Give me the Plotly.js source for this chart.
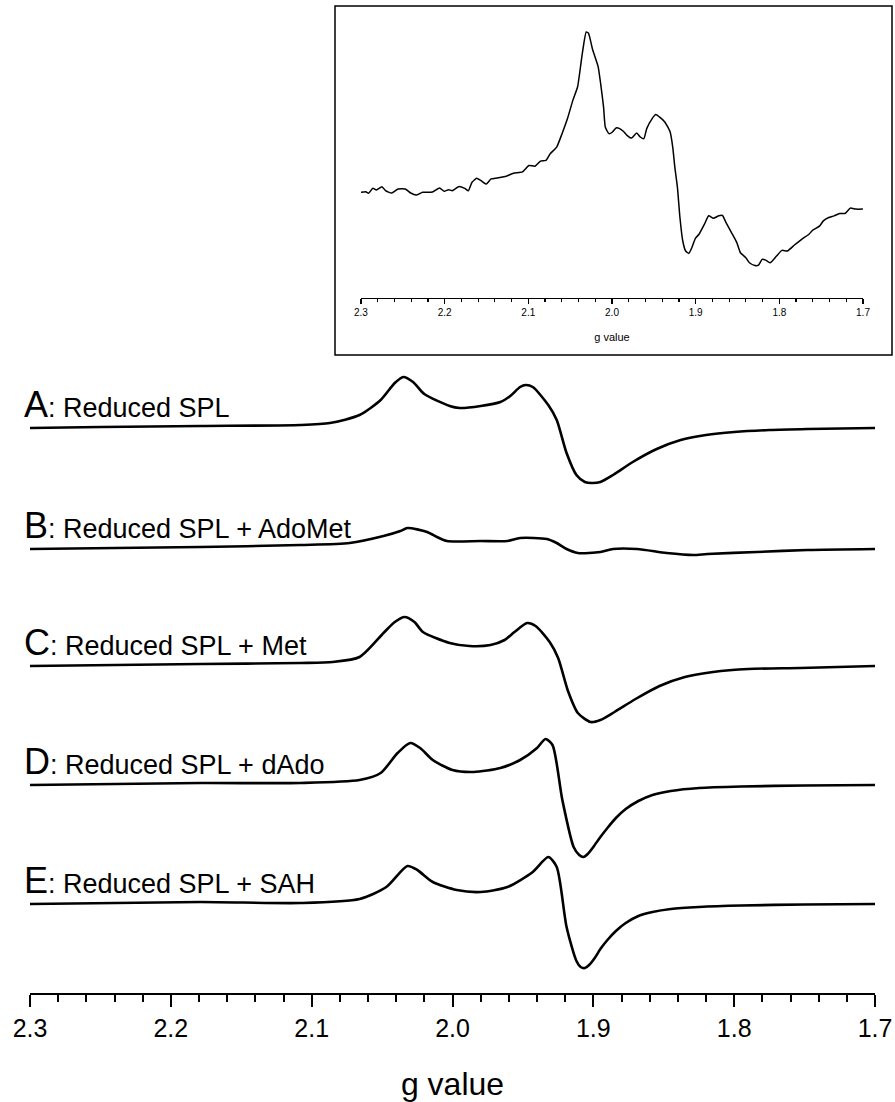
<!DOCTYPE html>
<html>
<head>
<meta charset="utf-8">
<script src="https://cdn.plot.ly/plotly-3.0.1.min.js"></script>
<style>html,body{margin:0;padding:0;background:#fff;}#chart{width:895px;height:1102px;}</style>
</head>
<body>
<div id="chart"></div>
<script>
// ---- Main spectra (g value, intensity in arbitrary units, positive up) ----
const gA = [2.300,2.250,2.179,2.108,2.087,2.066,2.051,2.041,2.035,2.028,2.020,2.002,1.995,1.980,1.966,1.959,1.952,1.948,1.943,1.932,1.926,1.919,1.912,1.906,1.901,1.895,1.886,1.872,1.855,1.838,1.820,1.800,1.775,1.748,1.700];
const iA = [0,1,2,3,5,13,28,45,51,46,34,22,20,22,26,32,41,43,41,23,8,-25,-47,-54,-55,-54,-47,-34,-21,-12,-7,-4,-2,-1,0];

const gB = [2.300,2.179,2.108,2.073,2.049,2.037,2.032,2.018,2.011,2.004,1.980,1.961,1.952,1.933,1.926,1.919,1.911,1.895,1.886,1.869,1.848,1.829,1.819,1.784,1.748,1.700];
const iB = [0,2,4,6,13,18,21,17,12,8,8,8,11,10,6,0,-4,-3,0,0,-4,-6,-5,-3,-1,0];

const gC = [2.300,2.179,2.108,2.085,2.066,2.049,2.041,2.034,2.027,2.021,2.002,1.988,1.973,1.963,1.956,1.947,1.941,1.931,1.925,1.918,1.911,1.902,1.895,1.885,1.870,1.853,1.835,1.815,1.790,1.753,1.700];
const iC = [0,2,3,4,9,33,44,49,44,34,23,20,21,26,34,43,40,24,8,-25,-47,-56,-54,-46,-33,-20,-11,-6,-3,-2,0];

const gD = [2.300,2.179,2.108,2.066,2.051,2.039,2.030,2.023,2.014,2.000,1.985,1.966,1.952,1.940,1.934,1.929,1.922,1.914,1.910,1.907,1.904,1.900,1.895,1.890,1.884,1.877,1.868,1.858,1.845,1.825,1.795,1.750,1.700];
const iD = [0,2,2,5,12,32,42,37,25,15,13,17,25,37,46,40,-15,-62,-70,-72,-69,-62,-52,-43,-33,-24,-16,-10,-6,-3,-1.5,-0.5,0];

const gE = [2.300,2.179,2.108,2.066,2.047,2.032,2.025,2.014,1.997,1.980,1.961,1.943,1.932,1.926,1.919,1.912,1.909,1.906,1.903,1.899,1.895,1.890,1.884,1.877,1.868,1.858,1.845,1.825,1.795,1.750,1.700];
const iE = [0,2,1,5,17,38,34,22,14,12,17,32,47,37,-23,-57,-63,-64,-61,-54,-45,-36,-27,-19,-12,-8,-5,-3,-1.5,-0.5,0];

// vertical stacking offsets of each spectrum
const offsets = [565, 444, 327, 208, 89];
const labelLetters = ["A", "B", "C", "D", "E"];
const labelTexts = [": Reduced SPL", ": Reduced SPL + AdoMet", ": Reduced SPL + Met", ": Reduced SPL + dAdo", ": Reduced SPL + SAH"];

// ---- Inset spectrum ----
const gIn = [2.3000,2.2944,2.2910,2.2858,2.2815,2.2750,2.2707,2.2634,2.2556,2.2470,2.2406,2.2341,2.2263,2.2147,2.2061,2.2005,2.1953,2.1910,2.1833,2.1760,2.1717,2.1673,2.1617,2.1566,2.1501,2.1445,2.1372,2.1264,2.1178,2.1070,2.0993,2.0920,2.0855,2.0790,2.0739,2.0661,2.0597,2.0532,2.0467,2.0411,2.0360,2.0308,2.0282,2.0231,2.0166,2.0136,2.0101,2.0080,2.0037,1.9994,1.9951,1.9908,1.9865,1.9821,1.9766,1.9705,1.9662,1.9619,1.9585,1.9520,1.9477,1.9434,1.9369,1.9305,1.9274,1.9249,1.9218,1.9188,1.9154,1.9120,1.9081,1.9046,1.9003,1.8960,1.8895,1.8844,1.8788,1.8723,1.8680,1.8637,1.8572,1.8508,1.8465,1.8400,1.8357,1.8292,1.8249,1.8206,1.8163,1.8111,1.8034,1.7969,1.7905,1.7819,1.7733,1.7646,1.7603,1.7517,1.7474,1.7410,1.7345,1.7280,1.7216,1.7151,1.7087,1.7001];
const iIn = [0,2,-3,12,7,17,5,-2,10,10,-2,-8,0,1,13,3,8,5,17,12,5,30,42,35,25,40,43,48,57,61,80,78,93,95,115,135,175,220,275,315,405,478,475,425,375,325,255,195,175,180,192,190,182,170,162,177,165,160,190,220,232,225,210,180,135,75,15,-75,-145,-175,-182,-165,-137,-125,-95,-70,-77,-70,-69,-90,-120,-150,-180,-195,-210,-218,-217,-200,-202,-210,-190,-173,-175,-157,-140,-125,-113,-100,-85,-75,-70,-63,-63,-47,-50,-50];

const majorTicks = [2.3, 2.2, 2.1, 2.0, 1.9, 1.8, 1.7];
const tickLabels = ["2.3", "2.2", "2.1", "2.0", "1.9", "1.8", "1.7"];

const FONT = "Liberation Sans, Arial, sans-serif";
const mainG = [gA, gB, gC, gD, gE];
const mainI = [iA, iB, iC, iD, iE];

const traces = mainG.map((g, k) => ({
  x: g,
  y: mainI[k].map(v => v + offsets[k]),
  type: "scatter", mode: "lines",
  line: {color: "#000", width: 2.6, shape: "spline", smoothing: 0.7},
  xaxis: "x", yaxis: "y", hoverinfo: "skip"
}));

traces.push({
  x: gIn, y: iIn, type: "scatter", mode: "lines",
  line: {color: "#000", width: 1.5, shape: "spline", smoothing: 0.5},
  xaxis: "x2", yaxis: "y2", hoverinfo: "skip"
});

const annotations = labelLetters.map((L, k) => ({
  xref: "paper", yref: "y", x: -0.0095, y: offsets[k] + 1,
  xanchor: "left", yanchor: "bottom", showarrow: false,
  text: "<span style='font-size:36px'>" + L + "</span>" + labelTexts[k],
  font: {family: FONT, size: 27, color: "#000"}
}));

const layout = {
  width: 895, height: 1102,
  margin: {l: 30, r: 20, t: 0, b: 109},
  paper_bgcolor: "#fff", plot_bgcolor: "rgba(0,0,0,0)",
  showlegend: false,
  font: {family: FONT, color: "#000"},
  xaxis: {
    range: [2.3, 1.7], autorange: false, showgrid: false, zeroline: false,
    showline: true, linecolor: "#000", linewidth: 2,
    tickmode: "array", tickvals: majorTicks, ticktext: tickLabels,
    ticks: "outside", ticklen: 12, tickwidth: 2, tickcolor: "#000",
    tickfont: {family: FONT, size: 25, color: "#000"},
    minor: {dtick: 0.02, tick0: 1.7, ticks: "outside", ticklen: 7, tickwidth: 2, tickcolor: "#000", showgrid: false},
    title: {text: "g value", font: {family: FONT, size: 32, color: "#000"}, standoff: 36},
    anchor: "y"
  },
  yaxis: {range: [0, 993], autorange: false, visible: false, domain: [0, 1]},
  xaxis2: {
    domain: [0.3917, 0.9858], anchor: "y2",
    range: [2.3, 1.7], autorange: false, showgrid: false, zeroline: false,
    showline: true, linecolor: "#000", linewidth: 1.2,
    tickmode: "array", tickvals: majorTicks, ticktext: tickLabels,
    ticks: "outside", ticklen: 5, tickwidth: 1.2, tickcolor: "#000",
    tickfont: {family: FONT, size: 10, color: "#000"},
    minor: {dtick: 0.02, tick0: 1.7, ticks: "outside", ticklen: 3, tickwidth: 1.2, tickcolor: "#000", showgrid: false},
    title: {text: "g value", font: {family: FONT, size: 11, color: "#000"}, standoff: 16}
  },
  yaxis2: {domain: [0.6999, 0.9799], anchor: "x2", range: [-315, 514], autorange: false, visible: false},
  shapes: [{
    type: "rect", xref: "paper", yref: "paper",
    x0: (335 - 30) / 845, x1: (892 - 30) / 845, y0: (993 - 355) / 993, y1: (993 - 6) / 993,
    line: {color: "#000", width: 1.5}, fillcolor: "rgba(0,0,0,0)"
  }],
  annotations: annotations
};

Plotly.newPlot("chart", traces, layout, {staticPlot: true, displayModeBar: false});
</script>
</body>
</html>
